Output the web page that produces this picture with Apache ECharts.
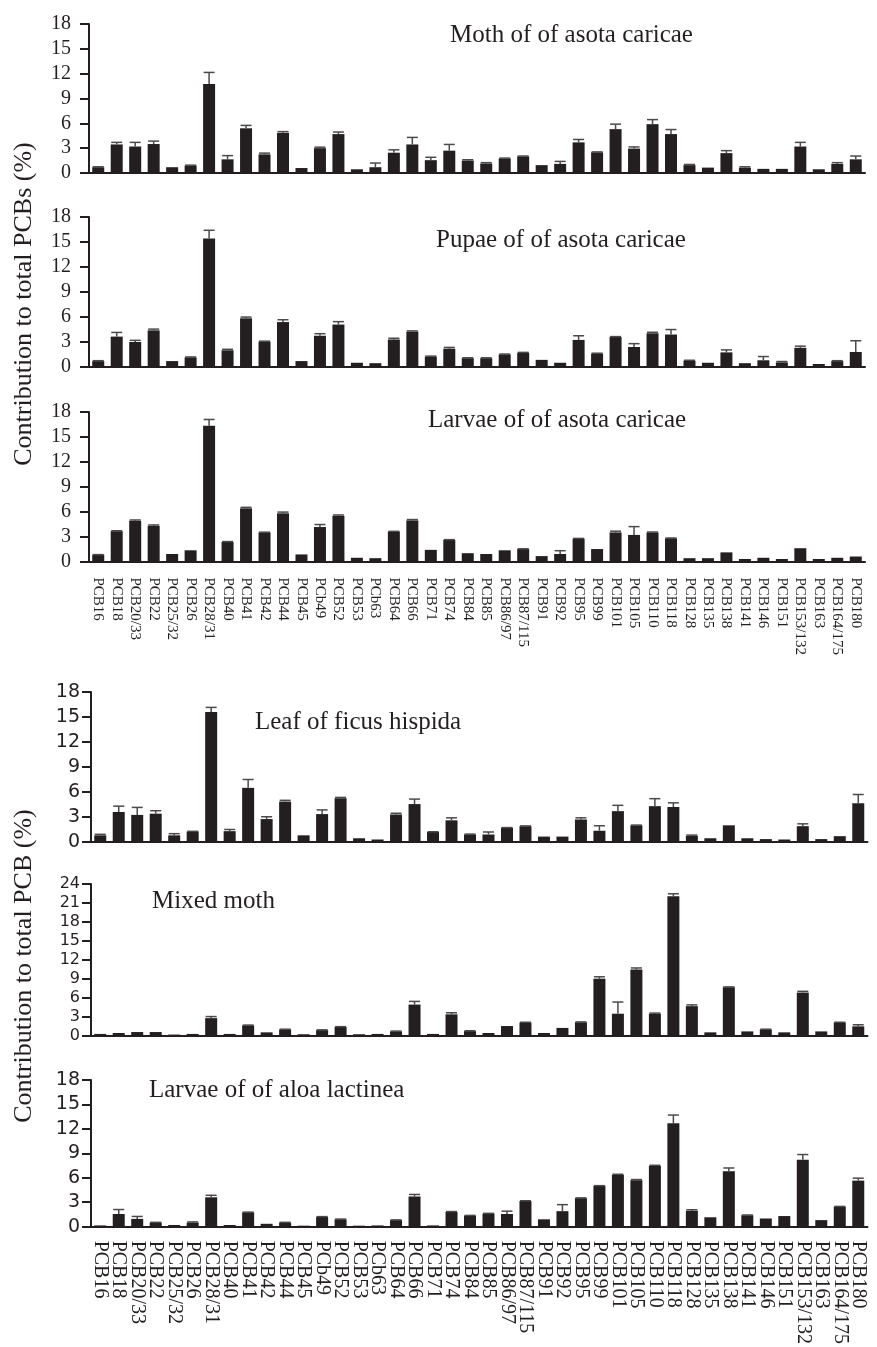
<!DOCTYPE html>
<html>
<head>
<meta charset="utf-8">
<script src="https://cdn.jsdelivr.net/npm/echarts@6/dist/echarts.min.js"></script>
<style>
  html, body { margin: 0; padding: 0; background: #fff; }
  #chart { width: 877px; height: 1347px; }
</style>
</head>
<body>
<div id="chart"></div>
<script>
// congener categories (same for all six panels)
const cats = ['PCB16','PCB18','PCB20/33','PCB22','PCB25/32','PCB26','PCB28/31','PCB40','PCB41','PCB42',
  'PCB44','PCB45','PCb49','PCB52','PCB53','PCb63','PCB64','PCB66','PCB71','PCB74',
  'PCB84','PCB85','PCB86/97','PCB87/115','PCB91','PCB92','PCB95','PCB99','PCB101','PCB105',
  'PCB110','PCB118','PCB128','PCB135','PCB138','PCB141','PCB146','PCB151','PCB153/132','PCB163',
  'PCB164/175','PCB180']

// contribution (%) and error (SD) per panel
const mothVals = [0.7,3.45,3.2,3.5,0.7,0.9,10.75,1.65,5.4,2.25, 4.85,0.6,3.0,4.7,0.45,0.7,2.45,3.45,1.55,2.7,
  1.5,1.15,1.75,2.0,0.95,1.1,3.7,2.5,5.3,2.95, 5.9,4.7,0.95,0.65,2.4,0.65,0.5,0.5,3.2,0.45, 1.1,1.65]
const mothErr = [0.05,0.25,0.5,0.35,0,0.05,1.4,0.45,0.35,0.15, 0.15,0,0.12,0.25,0,0.5,0.35,0.85,0.35,0.75,
  0.1,0.1,0.05,0.05,0,0.3,0.35,0.05,0.6,0.2, 0.55,0.55,0.08,0,0.3,0.1,0,0,0.5,0, 0.15,0.4]

const pupaeVals = [0.65,3.6,2.95,4.35,0.65,1.1,15.4,1.95,5.8,3.0, 5.35,0.65,3.7,5.05,0.45,0.4,3.25,4.2,1.2,2.15,
  1.0,1.0,1.45,1.65,0.8,0.45,3.2,1.55,3.55,2.35, 4.0,3.85,0.7,0.45,1.7,0.4,0.75,0.5,2.25,0.3, 0.65,1.75]
const pupaeErr = [0.05,0.5,0.2,0.15,0,0.05,1.0,0.12,0.15,0.05, 0.28,0,0.25,0.35,0,0,0.15,0.08,0.05,0.15,
  0.05,0.05,0.05,0.05,0,0,0.5,0.05,0.05,0.4, 0.12,0.6,0.05,0,0.3,0,0.45,0.1,0.2,0, 0.05,1.35]

const larvaeVals = [0.8,3.65,4.9,4.3,0.9,1.35,16.35,2.35,6.4,3.5, 5.8,0.85,4.15,5.5,0.45,0.4,3.6,4.95,1.4,2.6,
  1.0,0.9,1.35,1.5,0.65,0.9,2.75,1.5,3.5,3.2, 3.5,2.8,0.4,0.4,1.1,0.3,0.45,0.3,1.6,0.3, 0.45,0.6]
const larvaeErr = [0.03,0.05,0.1,0.1,0,0,0.75,0.05,0.12,0.03, 0.15,0,0.3,0.1,0,0,0.03,0.1,0,0.03,
  0,0,0,0.03,0,0.4,0.03,0,0.15,1.0, 0.05,0.03,0,0,0,0,0,0,0,0, 0,0]

const leafVals = [0.8,3.6,3.25,3.4,0.8,1.25,15.6,1.3,6.5,2.75, 4.85,0.8,3.35,5.25,0.45,0.3,3.3,4.55,1.2,2.6,
  0.9,0.9,1.7,1.9,0.65,0.65,2.7,1.35,3.7,2.0, 4.3,4.2,0.75,0.45,2.0,0.45,0.35,0.3,1.9,0.35, 0.7,4.65]
const leafErr = [0.12,0.7,0.9,0.35,0.2,0.03,0.55,0.2,1.0,0.28, 0.15,0,0.5,0.1,0,0,0.15,0.6,0.03,0.3,
  0.05,0.3,0.03,0.03,0,0,0.2,0.6,0.7,0.03, 0.9,0.5,0.08,0,0,0,0,0,0.28,0, 0,1.05]

const mixedVals = [0.25,0.4,0.55,0.55,0.15,0.25,2.75,0.25,1.6,0.5, 0.95,0.2,0.85,1.35,0.2,0.25,0.65,4.9,0.25,3.35,
  0.7,0.4,1.5,2.05,0.4,1.2,2.1,9.0,3.45,10.45, 3.45,22.05,4.65,0.5,7.65,0.65,0.95,0.5,6.8,0.65, 2.05,1.45]
const mixedErr = [0,0,0,0,0,0,0.25,0,0.05,0, 0.05,0,0.05,0.05,0,0,0.05,0.5,0,0.25,
  0.05,0,0,0.05,0,0,0.05,0.3,1.85,0.25, 0.1,0.4,0.2,0,0.05,0,0.05,0,0.2,0, 0.05,0.25]

const aloaVals = [0.15,1.55,0.95,0.5,0.2,0.5,3.6,0.2,1.75,0.35, 0.5,0.12,1.2,0.9,0.12,0.15,0.8,3.7,0.15,1.8,
  1.35,1.6,1.55,3.15,0.9,1.9,3.5,5.0,6.35,5.7, 7.45,12.7,1.95,1.15,6.8,1.4,1.0,1.3,8.2,0.8, 2.45,5.65]
const aloaErr = [0,0.55,0.3,0.03,0,0.08,0.25,0,0.03,0, 0.03,0,0.03,0.03,0,0,0.03,0.25,0,0.05,
  0.03,0.03,0.35,0.03,0,0.8,0.03,0.03,0.08,0.08, 0.08,1.0,0.12,0,0.4,0.03,0,0,0.65,0, 0.03,0.3]

const titles = ['Moth of of asota caricae', 'Pupae of of asota caricae', 'Larvae of of asota caricae',
  'Leaf of ficus hispida', 'Mixed moth', 'Larvae of of aloa lactinea']
const yMax = [18, 18, 18, 18, 24, 18]

const valueSets = [mothVals, pupaeVals, larvaeVals, leafVals, mixedVals, aloaVals]
const errSets = [mothErr, pupaeErr, larvaeErr, leafErr, mixedErr, aloaErr]

// layout
const ink = '#231f20'
const serif = '"Liberation Serif", "Times New Roman", serif'
const sans = '"DejaVu Sans", Arial, sans-serif'
const grids = [
  { left: 89, top: 24, width: 776, height: 149 },
  { left: 89, top: 217, width: 776, height: 149.5 },
  { left: 89, top: 412, width: 776, height: 149.5 },
  { left: 91, top: 692, width: 776.5, height: 150 },
  { left: 91, top: 884, width: 776.5, height: 151.5 },
  { left: 91, top: 1080, width: 776.5, height: 150 }
]
const titlePos = [[450, 23], [436, 228], [428, 408], [255, 710], [152, 889], [149, 1078]]

function renderErr(params, api) {
  const e = api.value(2)
  if (!(e > 0.02)) return
  const base = api.coord([api.value(0), api.value(1)])
  const top = api.coord([api.value(0), api.value(1) + e])
  const hw = 5.5
  const st = { stroke: '#4a4a4a', lineWidth: 1.5 }
  return {
    type: 'group',
    children: [
      { type: 'line', shape: { x1: base[0], y1: base[1], x2: base[0], y2: top[1] }, style: st },
      { type: 'line', shape: { x1: base[0] - hw, y1: top[1], x2: base[0] + hw, y2: top[1] }, style: st }
    ]
  }
}

const option = {
  animation: false,
  backgroundColor: '#fff',
  title: titles.map((t, i) => ({
    text: t, left: titlePos[i][0], top: titlePos[i][1], padding: 0,
    textStyle: { fontFamily: serif, fontSize: 25, fontWeight: 'normal', color: ink }
  })),
  grid: grids,
  xAxis: grids.map((g, i) => ({
    type: 'category', gridIndex: i, data: cats,
    axisLine: { lineStyle: { color: ink, width: 2 } },
    axisTick: { alignWithLabel: true, length: 10, lineStyle: { color: ink, width: 2 } },
    axisLabel: {
      show: i === 2 || i === 5, interval: 0, rotate: -90,
      margin: i === 2 ? 16 : 14,
      fontFamily: serif, fontSize: i === 2 ? 15 : 20, color: ink
    }
  })),
  yAxis: grids.map((g, i) => ({
    type: 'value', gridIndex: i, min: 0, max: yMax[i], interval: 3,
    splitLine: { show: false },
    axisLine: { show: true, lineStyle: { color: ink, width: 2 } },
    axisTick: { show: true, length: 9, lineStyle: { color: ink, width: 2 } },
    axisLabel: {
      margin: i < 3 ? 18 : 11,
      fontFamily: i < 3 ? serif : sans,
      fontSize: i < 3 ? 20 : (i === 4 ? 16 : 19),
      color: ink
    }
  })),
  graphic: [
    { type: 'text', x: 24, y: 304, rotation: Math.PI / 2,
      style: { text: 'Contribution to total PCBs (%)', fontFamily: serif, fontSize: 26, fill: ink, align: 'center', verticalAlign: 'middle' } },
    { type: 'text', x: 24, y: 966, rotation: Math.PI / 2,
      style: { text: 'Contribution to total PCB (%)', fontFamily: serif, fontSize: 26, fill: ink, align: 'center', verticalAlign: 'middle' } }
  ],
  series: []
}

valueSets.forEach((vals, i) => {
  option.series.push({
    type: 'bar', xAxisIndex: i, yAxisIndex: i, data: vals,
    barWidth: 12, itemStyle: { color: ink }, silent: true
  })
  option.series.push({
    type: 'custom', xAxisIndex: i, yAxisIndex: i,
    data: cats.map((c, k) => [k, vals[k], errSets[i][k]]),
    encode: { x: 0, y: 1 }, renderItem: renderErr, silent: true, z: 3
  })
})

const chart = echarts.init(document.getElementById('chart'))
chart.setOption(option)
</script>
</body>
</html>
